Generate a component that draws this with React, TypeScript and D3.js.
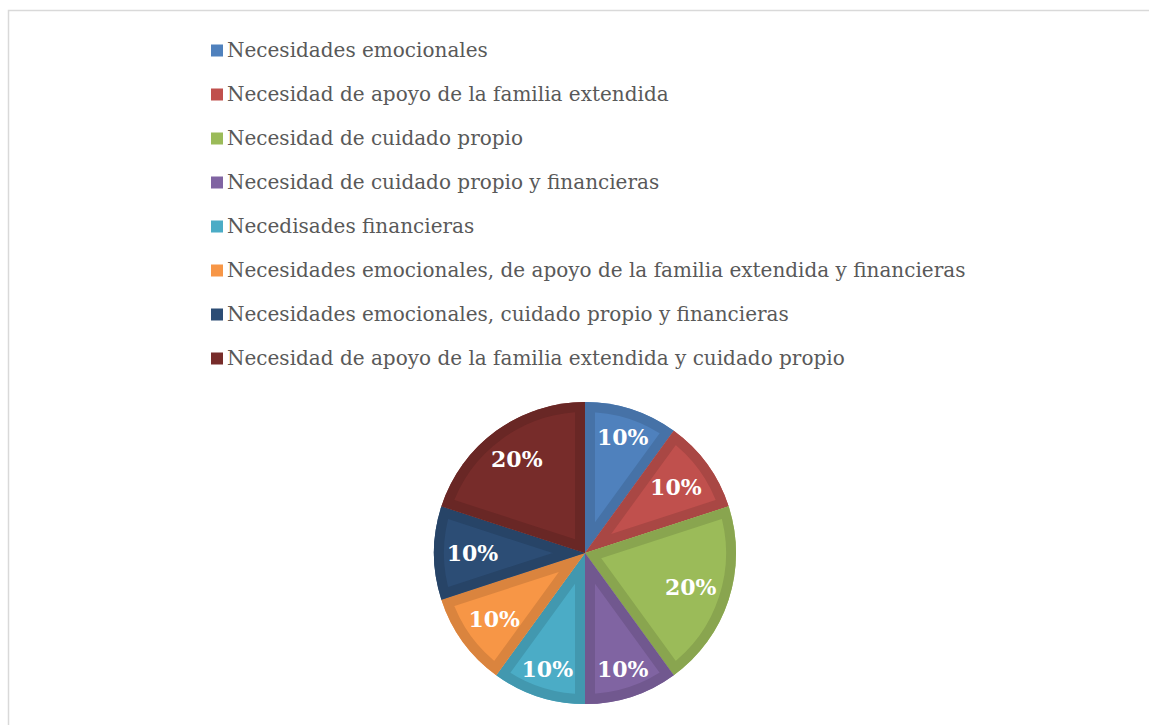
import React from "react";
import * as d3 from "d3";

const categories = [
  "Necesidades emocionales",
  "Necesidad de apoyo de la familia extendida",
  "Necesidad de cuidado propio",
  "Necesidad de cuidado propio y financieras",
  "Necedisades financieras",
  "Necesidades emocionales, de apoyo de la familia extendida y financieras",
  "Necesidades emocionales, cuidado propio y financieras",
  "Necesidad de apoyo de la familia extendida y cuidado propio",
];
const values = [10, 10, 20, 10, 10, 10, 10, 20];
const colors = ["#4F81BD", "#C0504D", "#9BBB59", "#8064A2", "#4BACC6", "#F79646", "#2C4D75", "#772C2A"];

const W = 1149;
const H = 725;
const cx = 585;
const cy = 553;
const R = 151;

export default function App() {
  const pie = d3.pie<number>().sort(null).value((d) => d);
  const arcs = pie(values);
  const arcGen = d3.arc<d3.PieArcDatum<number>>().innerRadius(0).outerRadius(R);
  const total = d3.sum(values);

  const labelW = 64;
  const labelH = 22;
  const D = R - 6;

  return (
    <svg width={W} height={H} style={{ position: "absolute", left: 0, top: 0, background: "#fff" }}>
      <rect x={8.5} y={10.5} width={W + 10} height={H + 10} fill="#fff" stroke="#d9d9d9" strokeWidth={1.5} />
      <g>
        {categories.map((c, i) => {
          const base = 56.5 + i * 44;
          return (
            <g key={c}>
              <rect x={211} y={base - 12} width={12} height={12} fill={colors[i]} />
              <text x={227} y={base} fontFamily="'DejaVu Serif', serif" fontSize={20} fill="#595959">
                {c}
              </text>
            </g>
          );
        })}
      </g>
      <g transform={`translate(${cx},${cy})`}>
        <defs>
          {arcs.map((a, i) => (
            <clipPath id={`clip${i}`} key={i}>
              <path d={arcGen(a) || ""} />
            </clipPath>
          ))}
        </defs>
        {arcs.map((a, i) => {
          const band = d3.color(colors[i])!.darker(0.35).formatHex();
          return (
            <g key={i}>
              <path d={arcGen(a) || ""} fill={colors[i]} />
              <path
                d={arcGen(a) || ""}
                fill="none"
                stroke={band}
                strokeWidth={20}
                strokeLinejoin="miter"
                clipPath={`url(#clip${i})`}
              />
            </g>
          );
        })}
        {arcs.map((a, i) => {
          const mid = (a.startAngle + a.endAngle) / 2;
          const s = Math.sin(mid);
          const c = -Math.cos(mid);
          const b = Math.abs(s) * labelW + Math.abs(c) * labelH;
          const cc = (labelW * labelW + labelH * labelH) / 4 - D * D;
          const t = (-b + Math.sqrt(b * b - 4 * cc)) / 2;
          const pct = Math.round((values[i] / total) * 100);
          return (
            <text
              key={i}
              x={t * s}
              y={t * c}
              textAnchor="middle"
              dominantBaseline="central"
              fontFamily="'DejaVu Serif', serif"
              fontWeight="bold"
              fontSize={22}
              fill="#fff"
            >
              {pct}%
            </text>
          );
        })}
      </g>
    </svg>
  );
}
